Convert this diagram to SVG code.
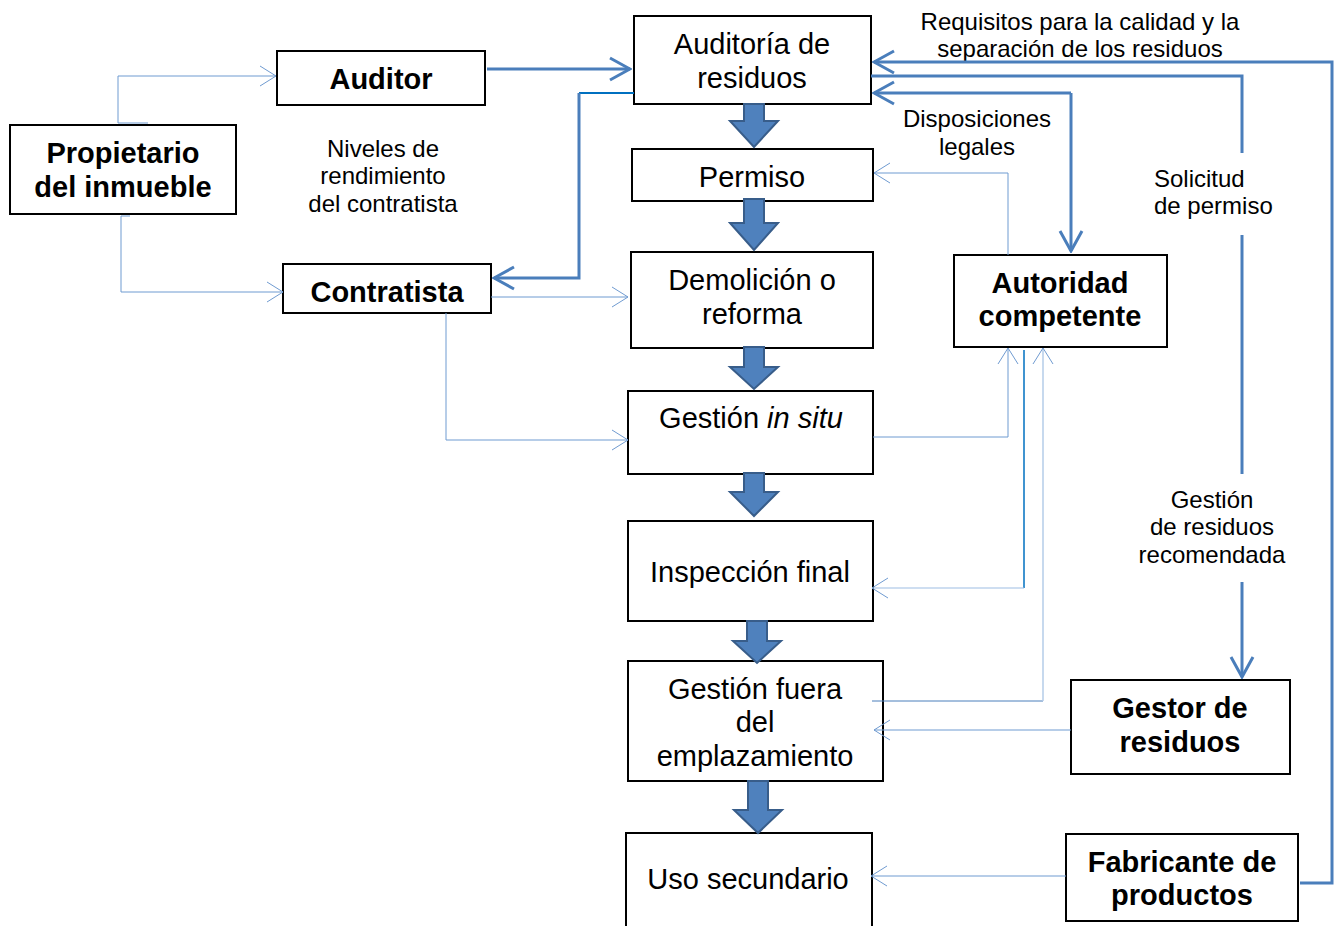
<svg xmlns="http://www.w3.org/2000/svg" width="1340" height="926" viewBox="0 0 1340 926">
<style>
.box{fill:#fff;stroke:#000;stroke-width:2}
.t{font-family:"Liberation Sans",Arial,sans-serif;font-size:29px;fill:#000;text-anchor:middle}
.b{font-weight:bold}
.lab{font-family:"Liberation Sans",Arial,sans-serif;font-size:24px;fill:#000;text-anchor:middle}
.st{text-anchor:start}
.thick{fill:none;stroke:#4a7ebb;stroke-width:3}
.thin{fill:none;stroke:#6f9bd1;stroke-width:1}
.dark{fill:none;stroke:#0070c0;stroke-width:2}
.blk{fill:#4f81bd;stroke:#385d8a;stroke-width:2}
</style>
<defs>
<marker id="ahT" markerUnits="userSpaceOnUse" markerWidth="24" markerHeight="26" viewBox="0 0 24 26" refX="22" refY="13" orient="auto">
<path d="M2,2 L22,13 L2,24" fill="none" stroke="#4a7ebb" stroke-width="3"/>
</marker>
<marker id="aht" markerUnits="userSpaceOnUse" markerWidth="20" markerHeight="24" viewBox="0 0 20 24" refX="18" refY="12" orient="auto">
<path d="M2,2 L18,12 L2,22" fill="none" stroke="#6f9bd1" stroke-width="1"/>
</marker>
</defs>

<g id="n-auditor"><rect class="box" x="277" y="51" width="208" height="54"/><text class="t b" x="381" y="89">Auditor</text></g>
<g id="n-auditoria"><rect class="box" x="634" y="16" width="237" height="88"/><text class="t" x="752" y="54">Auditoría de</text><text class="t" x="752" y="88">residuos</text></g>
<g id="n-propietario"><rect class="box" x="10" y="125" width="226" height="89"/><text class="t b" x="123" y="163">Propietario</text><text class="t b" x="123" y="197">del inmueble</text></g>
<g id="n-permiso"><rect class="box" x="632" y="149" width="241" height="52"/><text class="t" x="752" y="187">Permiso</text></g>
<g id="n-contratista"><rect class="box" x="283" y="264" width="208" height="49"/><text class="t b" x="387" y="302">Contratista</text></g>
<g id="n-demolicion"><rect class="box" x="631" y="252" width="242" height="96"/><text class="t" x="752" y="290">Demolición o</text><text class="t" x="752" y="324">reforma</text></g>
<g id="n-autoridad"><rect class="box" x="954" y="255" width="213" height="92"/><text class="t b" x="1060" y="293">Autoridad</text><text class="t b" x="1060" y="326">competente</text></g>
<g id="n-insitu"><rect class="box" x="628" y="391" width="245" height="83"/><text class="t" x="751" y="428">Gestión <tspan font-style="italic">in situ</tspan></text></g>
<g id="n-inspeccion"><rect class="box" x="628" y="521" width="245" height="100"/><text class="t" x="750" y="582">Inspección final</text></g>
<g id="n-fuera"><rect class="box" x="628" y="661" width="255" height="120"/><text class="t" x="755" y="699">Gestión fuera</text><text class="t" x="755" y="732">del</text><text class="t" x="755" y="766">emplazamiento</text></g>
<g id="n-gestor"><rect class="box" x="1071" y="680" width="219" height="94"/><text class="t b" x="1180" y="718">Gestor de</text><text class="t b" x="1180" y="752">residuos</text></g>
<g id="n-uso"><rect class="box" x="626" y="833" width="246" height="110"/><text class="t" x="748" y="889">Uso secundario</text></g>
<g id="n-fabricante"><rect class="box" x="1066" y="834" width="232" height="87"/><text class="t b" x="1182" y="872">Fabricante de</text><text class="t b" x="1182" y="905">productos</text></g>

<g id="labels">
<text class="lab" x="383" y="157">Niveles de</text>
<text class="lab" x="383" y="184">rendimiento</text>
<text class="lab" x="383" y="212">del contratista</text>
<text class="lab" x="1080" y="30">Requisitos para la calidad y la</text>
<text class="lab" x="1080" y="57">separación de los residuos</text>
<text class="lab" x="977" y="127">Disposiciones</text>
<text class="lab" x="977" y="155">legales</text>
<text class="lab st" x="1154" y="187">Solicitud</text>
<text class="lab st" x="1154" y="214">de permiso</text>
<text class="lab" x="1212" y="508">Gestión</text>
<text class="lab" x="1212" y="535">de residuos</text>
<text class="lab" x="1212" y="563">recomendada</text>
</g>

<g id="connectors">
<path class="thick" d="M487,69 H630" marker-end="url(#ahT)"/>
<path class="dark" d="M634,93 H579"/>
<path class="thick" d="M579,93 V278 H494" marker-end="url(#ahT)"/>
<path class="thick" d="M1300,883 H1332 V62 H874" marker-end="url(#ahT)"/>
<path class="thick" d="M871,76 H1242 V153"/>
<path class="thick" d="M1242,235 V474"/>
<path class="thick" d="M1242,582 V677" marker-end="url(#ahT)"/>
<path class="thick" d="M1071,93 H874" marker-end="url(#ahT)"/>
<path class="thick" d="M1071,93 V251" marker-end="url(#ahT)"/>

<path class="thin" d="M148,123 H118 V76 H276" marker-end="url(#aht)"/>
<path class="thin" d="M130,216 H121 V292 H283" marker-end="url(#aht)"/>
<path class="thin" d="M491,297 H628" marker-end="url(#aht)"/>
<path class="thin" d="M446,313 V440 H628" marker-end="url(#aht)"/>
<path class="thin" d="M1008,255 V173 H874" marker-end="url(#aht)"/>
<path class="thin" d="M873,437 H1008 V348" marker-end="url(#aht)"/>
<path class="dark" d="M1024,350 V588" style="stroke-width:1.5"/>
<path class="thin" d="M1024,588 H872" marker-end="url(#aht)" style="stroke:#9dbde3"/>
<path class="thin" d="M872,701 H1043" style="stroke:#4a7ebb"/>
<path class="thin" d="M1043,701 V348" marker-end="url(#aht)" style="stroke:#b4cce8;stroke-width:1.5"/>
<path class="thin" d="M1071,730 H874" marker-end="url(#aht)"/>
<path class="thin" d="M1066,876 H871" marker-end="url(#aht)"/>

<polygon class="blk" points="744,104 764,104 764,121 778,121 754,147 730,121 744,121"/>
<polygon class="blk" points="744,199 764,199 764,223 778,223 754,250 730,223 744,223"/>
<polygon class="blk" points="744,347 764,347 764,367 778,367 754,389 730,367 744,367"/>
<polygon class="blk" points="744,473 764,473 764,492 778,492 754,516 730,492 744,492"/>
<polygon class="blk" points="747,621 767,621 767,641 781,641 757,663 733,641 747,641"/>
<polygon class="blk" points="748,781 768,781 768,810 782,810 758,833 734,810 748,810"/>
</g>
</svg>
